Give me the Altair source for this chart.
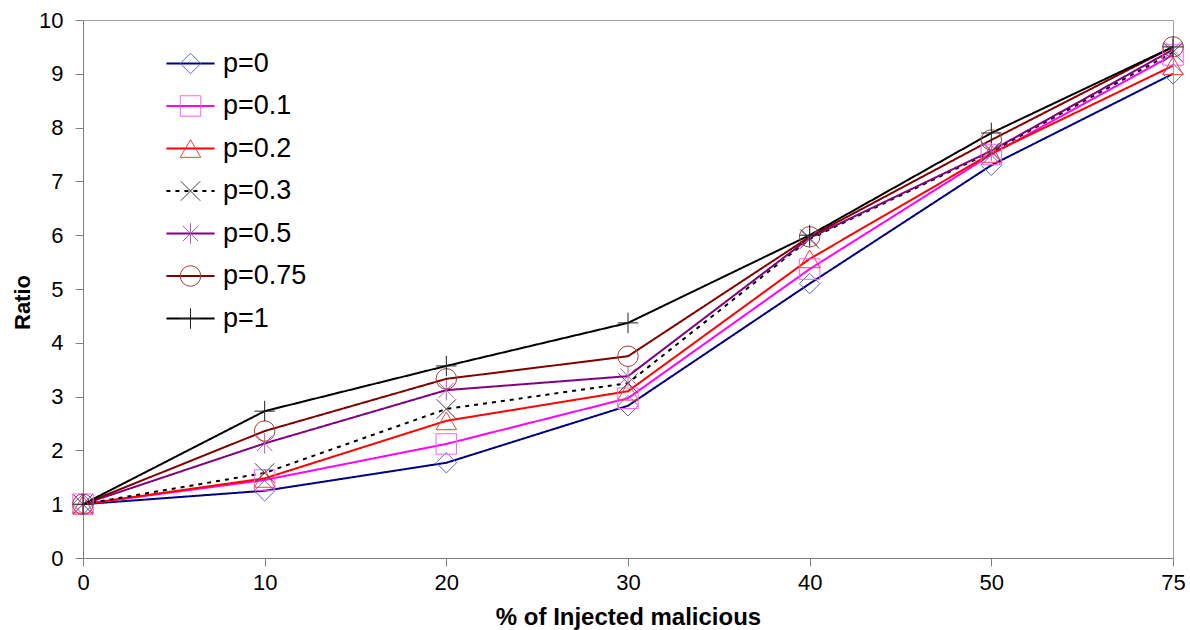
import altair as alt
import pandas as pd

x_labels = ["0", "10", "20", "30", "40", "50", "75"]
series = ["p=0", "p=0.1", "p=0.2", "p=0.3", "p=0.5", "p=0.75", "p=1"]

v_p0 = [1.0, 1.25, 1.77, 2.83, 5.10, 7.30, 9.00]
v_p01 = [1.0, 1.45, 2.12, 2.97, 5.37, 7.50, 9.35]
v_p02 = [1.0, 1.48, 2.55, 3.10, 5.56, 7.52, 9.15]
v_p03 = [1.0, 1.58, 2.77, 3.25, 5.93, 7.55, 9.40]
v_p05 = [1.0, 2.13, 3.12, 3.38, 5.95, 7.57, 9.45]
v_p075 = [1.0, 2.36, 3.33, 3.75, 5.97, 7.77, 9.50]
v_p1 = [1.0, 2.73, 3.57, 4.37, 6.00, 7.90, 9.50]
all_values = [v_p0, v_p01, v_p02, v_p03, v_p05, v_p075, v_p1]

line_colors = ["#000080", "#ff00ff", "#ff0000", "#000000", "#800080", "#800000", "#000000"]
marker_colors = ["#6464c8", "#ff5cff", "#ff3c3c", "#404040", "#b45ab4", "#a83c3c", "#202020"]
dashes = [[1, 0], [1, 0], [1, 0], [4, 5], [1, 0], [1, 0], [1, 0]]
SHAPE_X = "M-0.95,-0.95L0.95,0.95M-0.95,0.95L0.95,-0.95"
SHAPE_AST = "M-0.75,-0.75L0.75,0.75M-0.75,0.75L0.75,-0.75M0,-1L0,1"
SHAPE_PLUS = "M-1,0L1,0M0,-1L0,1"
shapes = ["diamond", "square", "triangle-up", SHAPE_X, SHAPE_AST, "circle", SHAPE_PLUS]

rows = []
for s, vals in zip(series, all_values):
    for xl, v in zip(x_labels, vals):
        rows.append({"x": xl, "y": v, "series": s, "series_m": s})
df = pd.DataFrame(rows)

FONT = "Liberation Sans"
NARROW = "Liberation Sans Narrow, Liberation Sans"

leg_common = dict(
    orient="none", legendX=94, legendY=30, title=None, symbolSize=420,
    labelFont=FONT, labelFontSize=27, labelColor="black", rowPadding=14.5,
    padding=0, labelOffset=19,
)
legA = alt.Legend(symbolType="M-2.35,0L2.35,0", symbolStrokeWidth=2, labelOpacity=0, **leg_common)
legB = alt.Legend(symbolStrokeWidth=1, **leg_common)

x_enc = alt.X(
    "x:O", sort=x_labels, scale=alt.Scale(padding=0),
    axis=alt.Axis(title="% of Injected malicious", labelAngle=0, labelFont=FONT,
                  labelFontSize=22, labelColor="black", labelPadding=6,
                  titleFont=FONT, titleFontSize=24, titleFontWeight="bold",
                  titleColor="black", titleY=47, titleBaseline="top"),
)
y_enc = alt.Y(
    "y:Q", scale=alt.Scale(domain=[0, 10], nice=False),
    axis=alt.Axis(values=list(range(11)), title="Ratio", labelFont=FONT,
                  labelFontSize=22, labelColor="black", labelPadding=12,
                  titleFont=NARROW, titleFontSize=22, titleFontWeight="bold",
                  titleColor="black", titleX=-61, titleY=282, titleAngle=-90,
                  titleAlign="center", titleBaseline="middle"),
)

# line scales use the data-driven (ascending) domain so their legend stays separate
lines = alt.Chart(df).mark_line(strokeWidth=2).encode(
    x=x_enc, y=y_enc,
    stroke=alt.Stroke("series:N", sort="ascending", scale=alt.Scale(range=line_colors), legend=legA),
    strokeDash=alt.StrokeDash("series:N", sort="ascending", scale=alt.Scale(range=dashes), legend=legA),
    detail="series:N",
)

points = alt.Chart(df).mark_point(filled=False, size=420, strokeWidth=1, opacity=1).encode(
    x=x_enc, y=y_enc,
    color=alt.Color("series_m:N", scale=alt.Scale(domain=series, range=marker_colors), legend=legB),
    shape=alt.Shape("series_m:N", scale=alt.Scale(domain=series, range=shapes), legend=legB),
)

chart = alt.layer(lines, points).properties(
    width=1090, height=538,
    autosize=alt.AutoSizeParams(type="none"),
    padding={"left": 83, "top": 20, "right": 17, "bottom": 72},
    background="white",
).configure_view(stroke="#a0a0a0", strokeWidth=1).configure_axis(
    grid=False, domainColor="#808080", tickColor="#808080", tickSize=8, domainWidth=1, tickWidth=1
)

chart.save("out.html", embed_options={"renderer": "svg", "actions": False})
